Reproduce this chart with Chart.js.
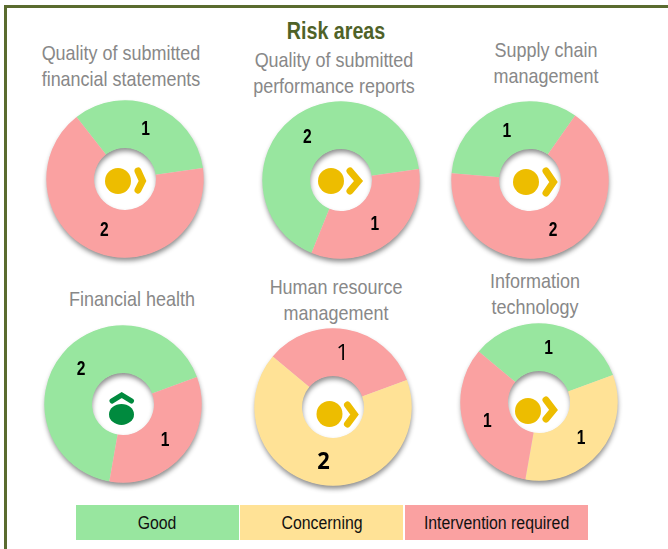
<!DOCTYPE html>
<html><head><meta charset="utf-8">
<script src="https://cdn.jsdelivr.net/npm/chart.js@4"></script>
<style>
html,body{margin:0;padding:0;background:#fff;width:668px;height:549px;overflow:hidden}
body{position:relative;font-family:"Liberation Sans",Arial,sans-serif}
#frame{position:absolute;left:4px;top:5px;width:700px;height:600px;border:3.5px solid #5A6B2F;box-sizing:border-box}
.t{position:absolute;transform:translate(-50%,-50%) scaleX(.855);white-space:nowrap;text-align:center}
.ct{color:#888888;font-size:21px;line-height:26px}
#main{color:#4F6228;font-weight:bold;font-size:23px;left:336px;top:31px}
.cell{position:absolute;top:505px;height:35px;line-height:36px;text-align:center;font-size:18px;color:#111}
.cell span{display:inline-block;transform:scaleX(.88)}
canvas{position:absolute}
</style></head>
<body>
<div id="frame"></div>
<div id="main" class="t">Risk areas</div>
<div id="legend"></div>
<script>
const categories = ["Good", "Concerning", "Intervention required"];
const areas = ["Quality of submitted\nfinancial statements","Quality of submitted\nperformance reports","Supply chain\nmanagement","Financial health","Human resource\nmanagement","Information\ntechnology"];
const good         = [1, 2, 1, 2, 0, 1];
const concerning   = [0, 0, 0, 0, 2, 1];
const intervention = [2, 1, 2, 1, 1, 1];
const trend = ["steady","steady","steady","up","steady","steady"];

const colors = ["#98E69F","#FFE296","#FAA1A1"];
const R = 78.7, RI = 31, SIZE = 176;
// placement: centre, rotation, slice order, title centre, icon offsets
const layout = [
 {cx:124.5,cy:179,rot:-38,order:[0,2],tx:121,ty:66, circle:[-7,2],chev:[11,21,-11,2,14]},
 {cx:340.5,cy:180,rot:-158,order:[0,2],tx:334,ty:73, circle:[-10,1],chev:[7,21,-12,1,14]},
 {cx:530.3,cy:180,rot:-85,order:[0,2],tx:546,ty:63, circle:[-4,2],chev:[14,27,-12,2,16]},
 {cx:122.8,cy:404.3,rot:190,order:[0,2],tx:132,ty:299, circle:[-1.5,10.4]},
 {cx:332.5,cy:407,rot:-50,order:[2,1],tx:335.5,ty:300, circle:[-3.5,7],chev:[12.5,25,-5,7.5,20]},
 {cx:538.7,cy:402,rot:-50,order:[0,1,2],tx:535,ty:294, circle:[-11,9],chev:[5,18,-5,8,20]}
];

categories.forEach((c,i)=>{
  const x=[75.7,240,404.7], w=[163.3,163.3,183.3];
  const d=document.createElement('div');
  d.className='cell';
  const s=document.createElement('span'); s.textContent=c; d.appendChild(s);
  d.style.left=x[i]+'px'; d.style.width=w[i]+'px'; d.style.background=colors[i];
  document.getElementById('legend').appendChild(d);
});

const series=[good,concerning,intervention];
const ringShadow={id:'ringShadow',beforeDatasetsDraw(chart){
  const a=chart.getDatasetMeta(0).data[0]; const c=chart.ctx;
  c.save();
  c.shadowColor='rgba(0,0,0,0.45)';c.shadowBlur=5;c.shadowOffsetX=0.5;c.shadowOffsetY=3.5;
  c.fillStyle='#ddd';
  c.beginPath();c.arc(a.x,a.y,a.outerRadius-0.5,0,Math.PI*2);c.arc(a.x,a.y,a.innerRadius+0.5,0,Math.PI*2,true);
  c.fill();c.restore();
}};
const valueLabels={id:'valueLabels',afterDatasetsDraw(chart,args,opts){
  const c=chart.ctx, ds=chart.data.datasets[0];
  chart.getDatasetMeta(0).data.forEach((arc,i)=>{
    const p=arc.tooltipPosition();
    const f=opts.fontFor(ds.data[i]);
    c.save();
    c.translate(p.x,p.y);c.scale(f.sx,1);
    c.fillStyle='#000';c.textAlign='center';c.textBaseline='middle';
    c.font=f.font;
    c.fillText(String(ds.data[i]),0,1);
    c.restore();
  });
}};
const centreIcon={id:'centreIcon',afterDatasetsDraw(chart,args,opts){
  const a=chart.getDatasetMeta(0).data[0], c=chart.ctx, L=opts.l;
  c.save();
  c.lineCap='round';c.lineJoin='miter';
  if(opts.trend==='up'){
    c.fillStyle=c.strokeStyle='#008A3E';
    c.beginPath();c.ellipse(a.x+L.circle[0],a.y+L.circle[1],12.5,10.5,0,0,Math.PI*2);c.fill();
    c.lineWidth=5;
    c.beginPath();c.moveTo(a.x-11,a.y-3);c.lineTo(a.x-1.3,a.y-9);c.lineTo(a.x+8.5,a.y-3);c.stroke();
  }else{
    c.fillStyle=c.strokeStyle='#EDBD00';
    c.beginPath();c.ellipse(a.x+L.circle[0],a.y+L.circle[1],13,13,0,0,Math.PI*2);c.fill();
    const [x0,x1,y0,ym,y1]=L.chev;
    c.lineWidth=7;
    c.beginPath();c.moveTo(a.x+x0+2,a.y+y0+3);c.lineTo(a.x+x1-3.5,a.y+ym);c.lineTo(a.x+x0+2,a.y+y1-3);c.stroke();
  }
  c.restore();
}};

areas.forEach((name,i)=>{
  const L=layout[i];
  const t=document.createElement('div');
  t.className='t ct';t.innerHTML=name.split('\n').join('<br>');
  t.style.left=L.tx+'px';t.style.top=L.ty+'px';
  document.body.appendChild(t);

  const cv=document.createElement('canvas');
  cv.width=SIZE;cv.height=SIZE;
  cv.style.cssText=`left:${L.cx-SIZE/2}px;top:${L.cy-SIZE/2}px;width:${SIZE}px;height:${SIZE}px`;
  document.body.appendChild(cv);
  const pad=SIZE/2-R;
  new Chart(cv,{
    type:'doughnut',
    data:{
      labels:L.order.map(k=>categories[k]),
      datasets:[{data:L.order.map(k=>series[k][i]),backgroundColor:L.order.map(k=>colors[k]),borderWidth:0}]
    },
    options:{
      responsive:false,animation:false,
      rotation:L.rot,
      cutout:(RI/R*100)+'%',
      layout:{padding:pad},
      plugins:{
        legend:{display:false},tooltip:{enabled:false},
        valueLabels:{fontFor:v=>i===4?(v===2?{font:'bold 23px "Open Sans"',sx:.95}:{font:'22px "Open Sans"',sx:1}):{font:'bold 20px "Liberation Sans"',sx:.78}},
        centreIcon:{l:L,trend:trend[i]}
      }
    },
    plugins:[ringShadow,valueLabels,centreIcon]
  });
});
</script>
</body></html>
